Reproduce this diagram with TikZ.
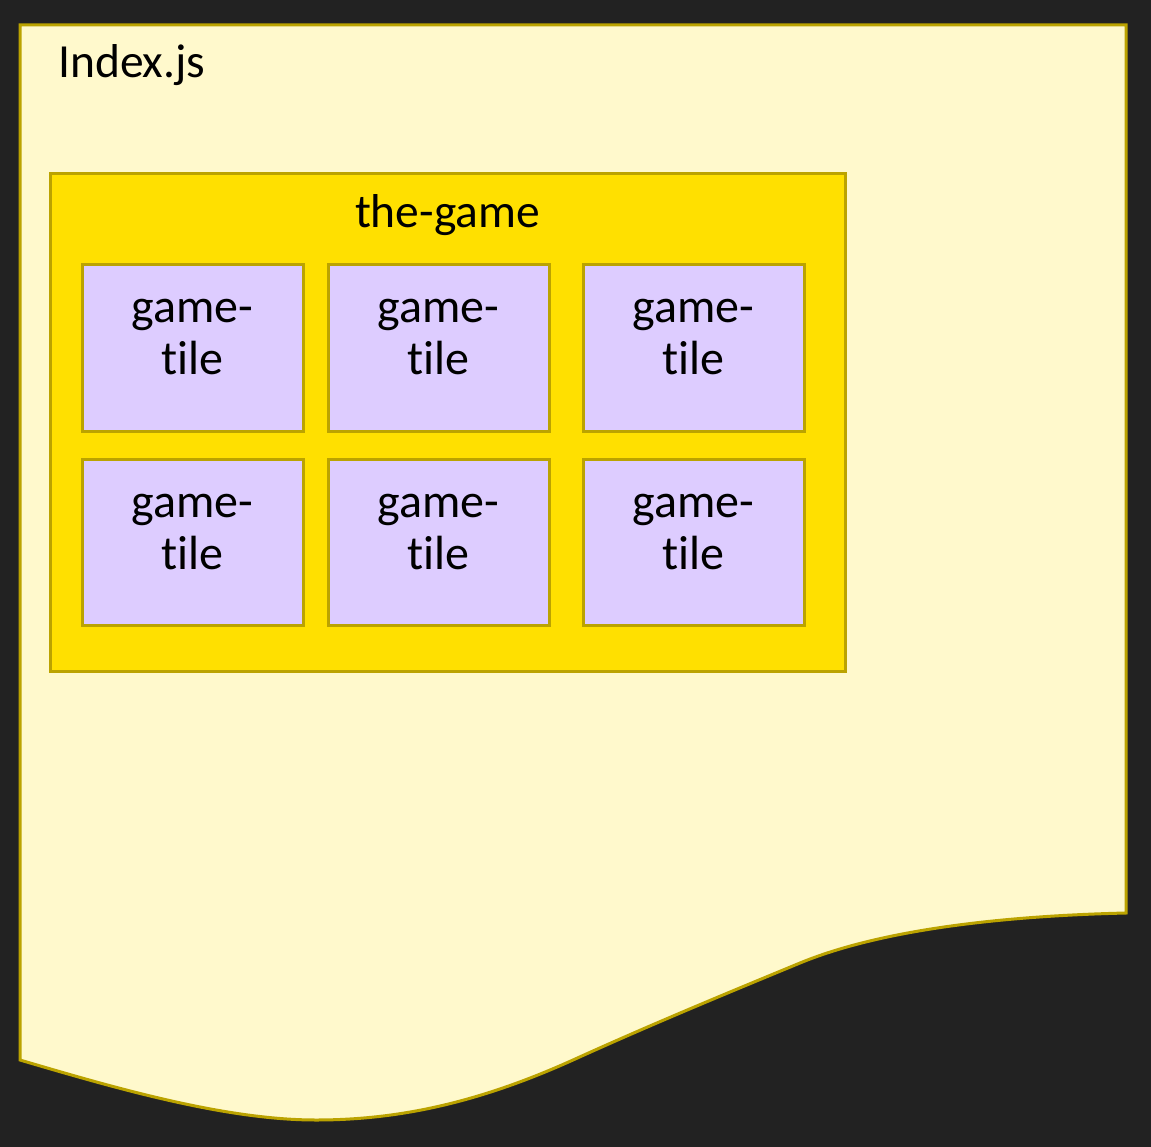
\documentclass[tikz,border=0pt]{standalone}
\usepackage{fontspec}
\setmainfont{Carlito}[Ligatures=NoCommon]
\definecolor{bgdark}{HTML}{222222}
\definecolor{docfill}{HTML}{FFF9CC}
\definecolor{olive}{HTML}{BBA300}
\definecolor{gamefill}{HTML}{FFE000}
\definecolor{tilefill}{HTML}{DDCCFF}
\tikzset{
  lbl/.style={inner sep=0pt, font=\fontsize{47.5}{52}\selectfont, text=black},
  gamebox/.style={draw=olive, line width=3pt, fill=gamefill, minimum width=795pt, minimum height=497pt, inner sep=0pt},
  tilebox/.style={draw=olive, line width=3pt, fill=tilefill, minimum width=221pt, minimum height=166pt, inner sep=0pt, align=center, font=\fontsize{48}{52}\selectfont},
}
\newcommand{\tiletext}{\rule{0pt}{30pt}game-\\tile\rule[-28pt]{0pt}{28pt}}
\begin{document}
\begin{tikzpicture}[x=1pt,y=-1pt]
\fill[bgdark] (0,0) rectangle (1151,1147);
\useasboundingbox (0,0) rectangle (1151,1147);
% document shape
\draw[draw=olive, line width=3pt, fill=docfill, line join=miter]
  (20,25) -- (1126,25) -- (1126,913)
  .. controls (1000,916) and (880,930) .. (800,963)
  .. controls (725,994) and (650,1025) .. (573,1060)
  .. controls (480,1102) and (400,1120) .. (316,1120)
  .. controls (225,1120) and (115,1088) .. (20,1060) -- cycle;
\node[lbl, anchor=base west] (index) at (58,78) {Index.js};
% the-game container
\node[gamebox] (game) at (447.5,422.5) {};
\node[lbl, anchor=base] (gametitle) at (447.5,228) {the-game};
% tiles
\node[tilebox] (t11) at (192.5,348) {\tiletext};
\node[tilebox] (t12) at (438.5,348) {\tiletext};
\node[tilebox] (t13) at (693.5,348) {\tiletext};
\node[tilebox] (t21) at (192.5,542) {\tiletext};
\node[tilebox] (t22) at (438.5,542) {\tiletext};
\node[tilebox] (t23) at (693.5,542) {\tiletext};
\end{tikzpicture}
\end{document}
